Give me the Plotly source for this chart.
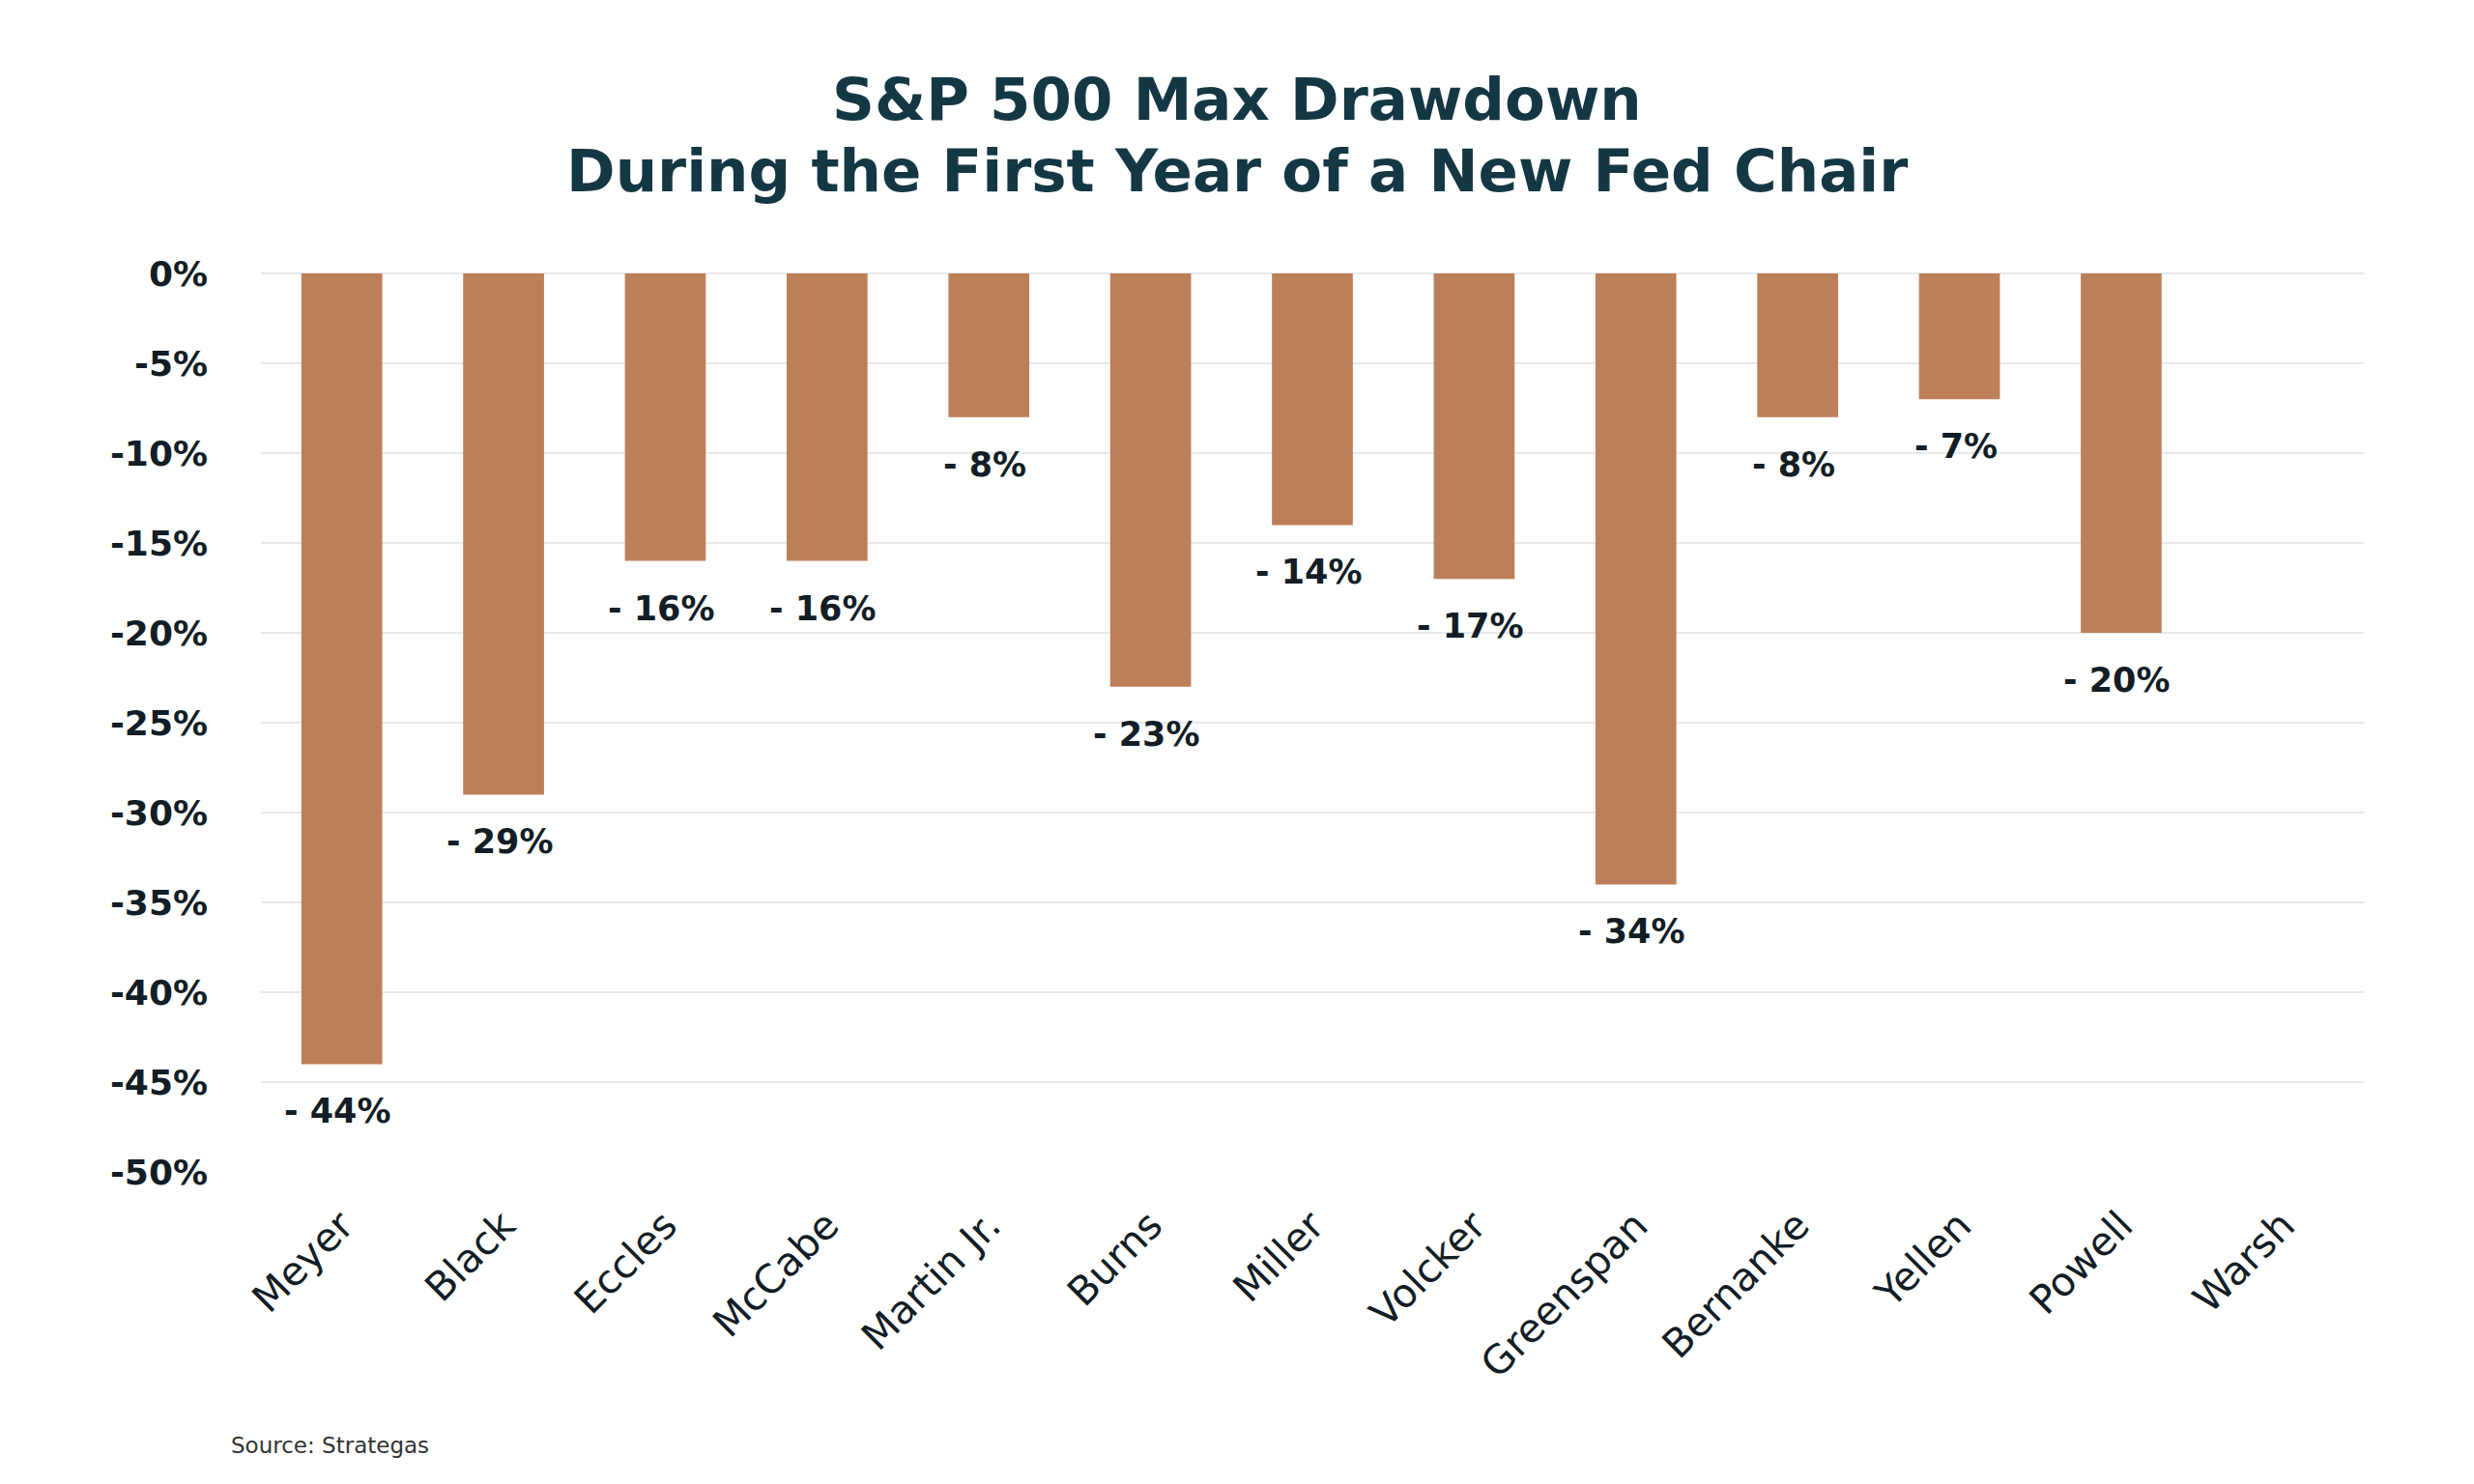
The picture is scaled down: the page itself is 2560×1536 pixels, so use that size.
import plotly.graph_objects as go

chairs = ["Meyer", "Black", "Eccles", "McCabe", "Martin Jr.", "Burns", "Miller",
          "Volcker", "Greenspan", "Bernanke", "Yellen", "Powell", "Warsh"]
drawdown = [-44, -29, -16, -16, -8, -23, -14, -17, -34, -8, -7, -20, None]
y_tickvals = [0, -5, -10, -15, -20, -25, -30, -35, -40, -45, -50]
y_ticktext = ["0%", "-5%", "-10%", "-15%", "-20%", "-25%", "-30%", "-35%", "-40%", "-45%", "-50%"]
title_lines = ["S&P 500 Max Drawdown", "During the First Year of a New Fed Chair"]

BAR = "#BD7F59"
INK = "#121D26"
TITLE = "#143843"
GRID = "#E6E9ED"
FONT = "DejaVu Sans"

L, R, T, B = 270, 114, 283, 323
W, H = 2560, 1536
plot_w = W - L - R
plot_h = H - T - B


def px_y(y):
    return (H - B - y) / plot_h


def px_x(x):
    return (x - L) / plot_w


fig = go.Figure()
fig.add_trace(go.Bar(x=chairs, y=drawdown, marker=dict(color=BAR, line=dict(width=0)),
                     hoverinfo="skip"))

for c, v in zip(chairs, drawdown):
    if v is None:
        continue
    fig.add_annotation(x=c, y=v, text=f"- {abs(v)}%", showarrow=False,
                       yanchor="top", yshift=-27, xshift=-4,
                       font=dict(family=FONT, size=35, color=INK, weight="bold"))

for line, ypix in zip(title_lines, [102, 177]):
    fig.add_annotation(xref="paper", yref="paper", x=px_x(1280), y=px_y(ypix),
                       xanchor="center", yanchor="middle",
                       text=f"<b>{line}</b>", showarrow=False,
                       font=dict(family=FONT, size=61, color=TITLE))

fig.add_annotation(xref="paper", yref="paper", x=px_x(237), y=px_y(1496),
                   xanchor="left", yanchor="middle",
                   text="Source: Strategas", showarrow=False,
                   font=dict(family=FONT, size=23, color="#333333"))

fig.update_layout(
    width=W, height=H,
    paper_bgcolor="white", plot_bgcolor="white",
    margin=dict(l=L, r=R, t=T, b=B, autoexpand=False),
    bargap=0.5, showlegend=False,
    font=dict(family=FONT, color=INK),
)
fig.update_xaxes(showgrid=False, showline=False, tickangle=-45, ticks="",
                 ticklabelstandoff=22,
                 tickfont=dict(family=FONT, size=41, color=INK))
fig.update_yaxes(range=[-50, 0], tickvals=y_tickvals, ticktext=y_ticktext,
                 showgrid=True, gridcolor=GRID, gridwidth=2,
                 zeroline=True, zerolinecolor=GRID, zerolinewidth=2,
                 showline=False, ticks="", ticklabelstandoff=54,
                 tickfont=dict(family=FONT, size=36, color=INK, weight="bold"))

fig.write_html("out.html")
